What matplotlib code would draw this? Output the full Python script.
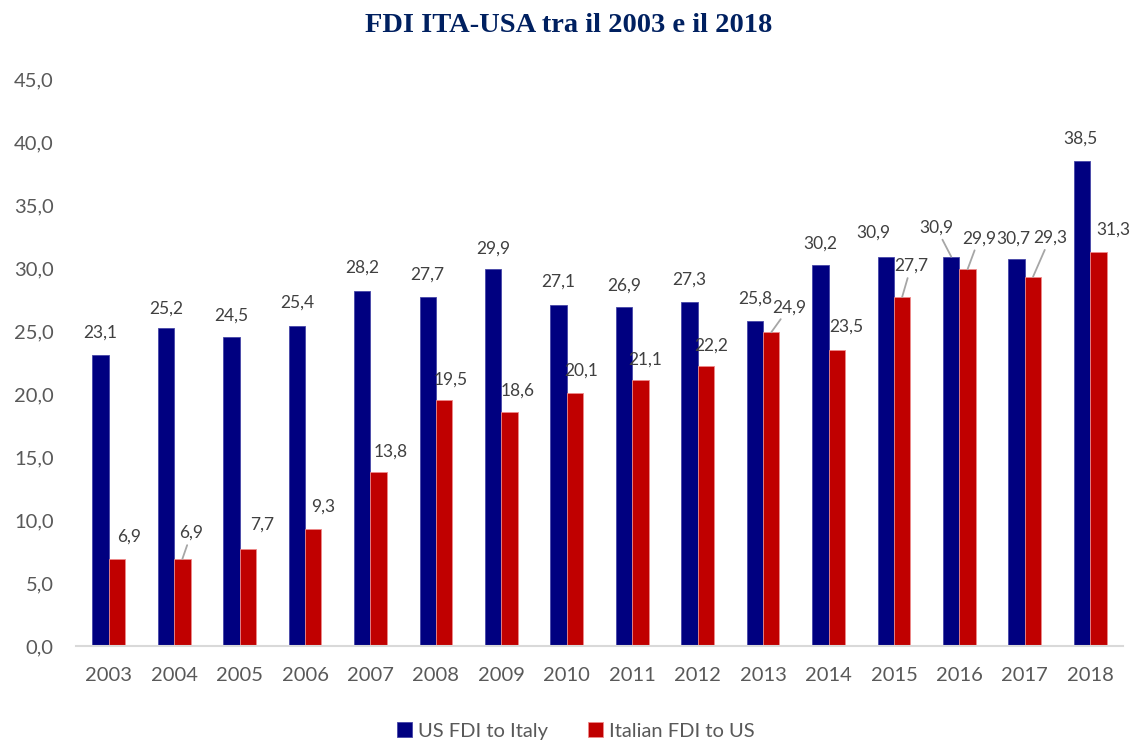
import matplotlib
matplotlib.use("Agg")
import matplotlib.pyplot as plt
import numpy as np

# ---- data ----
years = ["2003", "2004", "2005", "2006", "2007", "2008", "2009", "2010",
         "2011", "2012", "2013", "2014", "2015", "2016", "2017", "2018"]
us_to_italy = [23.1, 25.2, 24.5, 25.4, 28.2, 27.7, 29.9, 27.1,
               26.9, 27.3, 25.8, 30.2, 30.9, 30.9, 30.7, 38.5]
italy_to_us = [6.9, 6.9, 7.7, 9.3, 13.8, 19.5, 18.6, 20.1,
               21.1, 22.2, 24.9, 23.5, 27.7, 29.9, 29.3, 31.3]
series_names = ["US FDI to Italy", "Italian FDI to US"]
title = "FDI ITA-USA tra il 2003 e il 2018"
yticks = [0, 5, 10, 15, 20, 25, 30, 35, 40, 45]

# ---- label placement (style: pixel offsets from bar top) ----
blue_dx = [0, 0, 0, 0, 0, 0, 0, 0, 0, 0, 0, 0, -12, -15, -3, -2]
blue_gap = [17, 15, 17, 18, 18, 17, 16, 18, 16, 17, 17, 16.5, 19, 24, 16, 17]
blue_leader = [13]
red_dx = [12, 9, 14, 10, 12, 6.5, 8, 6, 5, 5, 18, 10, 9, 11.5, 17, 15]
red_gap = [17.5, 21, 19, 17, 15, 16, 16, 17, 16, 16, 20, 18, 26, 26, 34, 16.5]
red_leader = [1, 10, 12, 13, 14]

BLUE = "#000080"
RED = "#C00000"
PX = 0.72  # points per pixel at dpi 100

plt.rcParams['font.family'] = ['Lato', 'DejaVu Sans']

fig = plt.figure(figsize=(11.37, 7.41), dpi=100)
ax = fig.add_axes([76 / 1137, 1 - 646 / 741, (1123 - 76) / 1137, (646 - 79) / 741])

x = np.arange(len(years))
w = 0.25
b1 = ax.bar(x - w / 2, us_to_italy, w, color=BLUE, edgecolor="#4646A8", linewidth=0.6,
            label=series_names[0], zorder=2)
b2 = ax.bar(x + w / 2, italy_to_us, w, color=RED, edgecolor="#EE8A8A", linewidth=0.6,
            label=series_names[1], zorder=2)

ax.set_xlim(-0.5, len(years) - 0.5)
ax.set_ylim(0, 45)
ax.set_yticks(yticks)
ax.set_yticklabels([f"{v:.1f}".replace(".", ",") for v in yticks])
ax.set_xticks(x)
ax.set_xticklabels(years)
ax.tick_params(axis="both", length=0, labelsize=14.5, colors="#595959")
ax.tick_params(axis="y", pad=16)
ax.tick_params(axis="x", pad=15)

for s in ["top", "right", "left"]:
    ax.spines[s].set_visible(False)
ax.spines["bottom"].set_color("#D9D9D9")
ax.spines["bottom"].set_linewidth(1.5)


def label(xpos, val, dx, gap, leader):
    txt = f"{val:.1f}".replace(".", ",")
    kw = dict(xy=(xpos, val), xytext=(dx * PX, gap * PX), textcoords="offset points",
              ha="center", va="baseline", fontsize=12.5, color="#404040", zorder=3)
    if leader:
        kw["arrowprops"] = dict(arrowstyle="-", color="#A6A6A6", lw=1.3,
                                shrinkA=1, shrinkB=0)
    ax.annotate(txt, **kw)


for i in range(len(years)):
    label(x[i] - w / 2, us_to_italy[i], blue_dx[i], blue_gap[i], i in blue_leader)
    label(x[i] + w / 2, italy_to_us[i], red_dx[i], red_gap[i], i in red_leader)

fig.text(0.5, 1 - 25 / 741, title, ha="center", va="center", fontsize=20.5,
         fontweight="bold", color="#002060", family="Liberation Serif")

leg = fig.legend(handles=[b1, b2], labels=series_names, loc="center",
                 bbox_to_anchor=(576 / 1137, 1 - 731 / 741), ncol=2, frameon=False,
                 fontsize=14.5, handlelength=0.75, handleheight=0.75, handletextpad=0.3,
                 columnspacing=2.0, borderaxespad=0)
for t in leg.get_texts():
    t.set_color("#595959")

fig.savefig("out.png", dpi=100)
